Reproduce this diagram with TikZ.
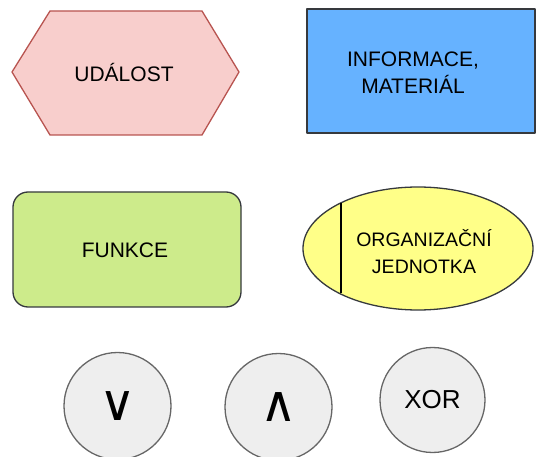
\documentclass[tikz,border=0pt]{standalone}
\usepackage{fontspec}
\setmainfont{Liberation Sans}
\newfontfamily\symfont{DejaVu Sans}
\usetikzlibrary{shapes.geometric}

\definecolor{eventfill}{HTML}{F8CECC}
\definecolor{eventline}{HTML}{B85450}
\definecolor{infofill}{HTML}{66B2FF}
\definecolor{funcfill}{HTML}{CDEB8B}
\definecolor{orgfill}{HTML}{FFFF88}
\definecolor{darkline}{HTML}{36393D}
\definecolor{gatefill}{HTML}{EEEEEE}
\definecolor{gateline}{HTML}{666666}

\tikzset{
  shapeline/.style={line width=1.3pt, line join=round},
  labeltext/.style={font=\fontsize{21}{27}\selectfont, align=center, inner sep=0pt, text=black},
  gatecircle/.style={circle, draw=gateline, fill=gatefill, shapeline, minimum size=107pt, inner sep=0pt},
  gatesym/.style={font=\symfont\fontsize{50}{50}\selectfont}
}

\begin{document}
\begin{tikzpicture}[x=1pt,y=-1pt]
\useasboundingbox (0,0) rectangle (536,457);

% event
\draw [shapeline, draw=eventline, fill=eventfill] (12,72) -- (50,11) -- (202,11) -- (239,72) -- (202,135) -- (50,135) -- cycle ;
\node [labeltext, anchor=base] (udalost) at (124,82) {UDÁLOST};

% information, material
\draw [shapeline, draw=darkline, fill=infofill] (307,9) rectangle (535,133) ;
\node [labeltext] (informace) at (413,73) {INFORMACE,\\MATERIÁL};

% function
\draw [shapeline, draw=darkline, fill=funcfill, rounded corners=15pt] (13,192) rectangle (241,307) ;
\node [labeltext, anchor=base] (funkce) at (125,258) {FUNKCE};

% organisational unit
\node [ellipse, shapeline, draw=darkline, fill=orgfill, minimum width=230pt, minimum height=123pt] (org) at (418,248.5) {};
\draw [shapeline, draw=black] (341,203.5) -- (341,293.5) ;
\node [labeltext, font=\fontsize{19.5}{27}\selectfont] (orgtext) at (424,252) {ORGANIZAČNÍ\\JEDNOTKA};

% connectors
\node [gatecircle, gatesym] (or) at (117.5,406) {∨};
\node [gatecircle, gatesym] (and) at (278.5,407) {∧};
\node [gatecircle, minimum size=105pt, font=\fontsize{26}{26}\selectfont] (xor) at (432.5,400) {XOR};
\end{tikzpicture}
\end{document}
